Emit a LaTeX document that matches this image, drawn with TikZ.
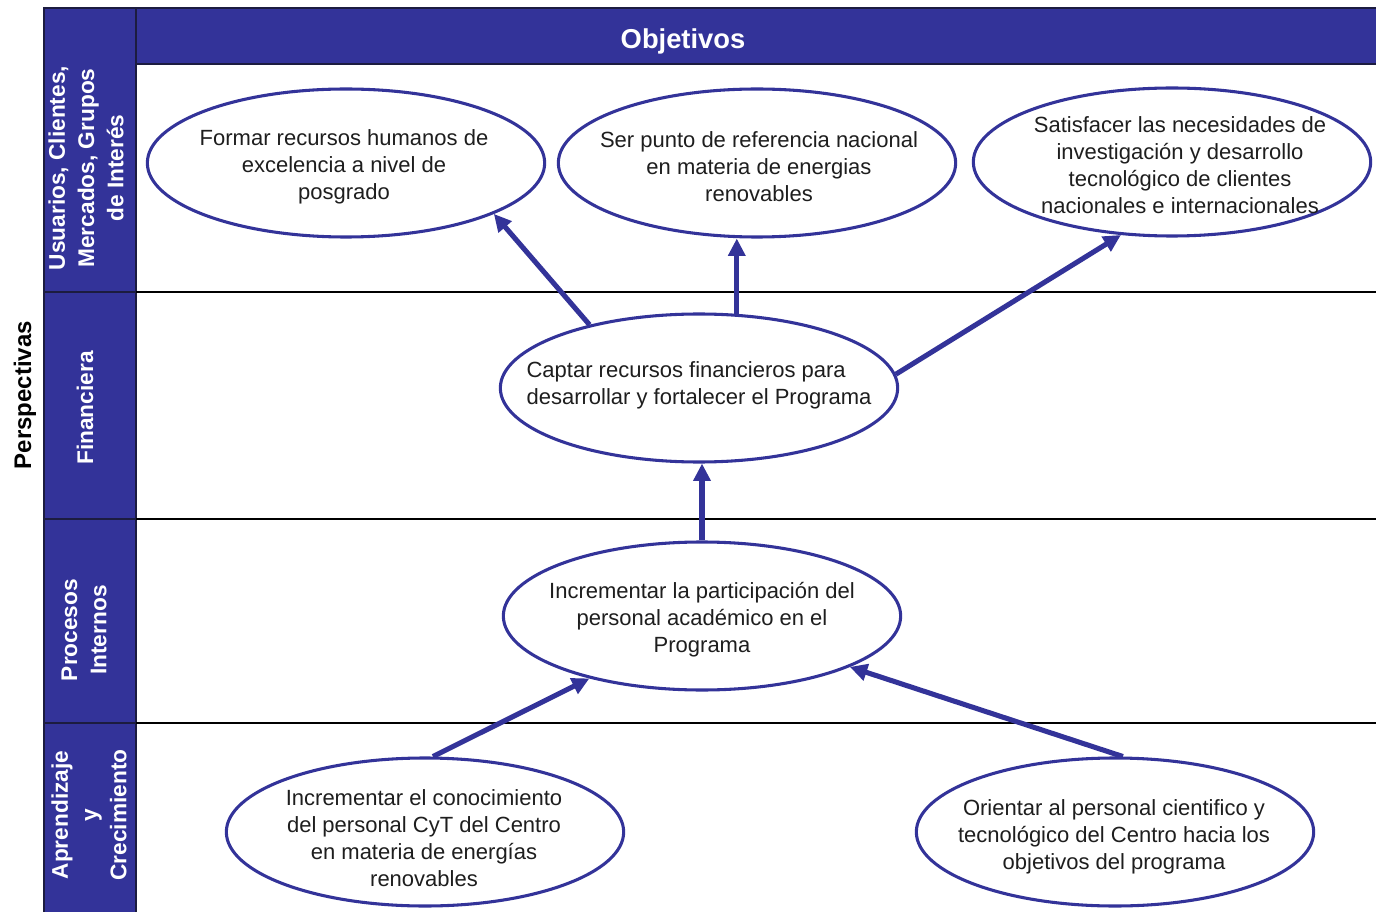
\documentclass[tikz,border=0pt]{standalone}
\usepackage{fontspec}
\setmainfont{Liberation Sans}
\usetikzlibrary{shapes.geometric,arrows.meta}
\definecolor{navy}{RGB}{51,51,153}
\definecolor{edge}{RGB}{28,28,64}
\definecolor{ink}{RGB}{30,30,30}

\begin{document}
\begin{tikzpicture}[x=0.75pt,y=-0.75pt,
  oval/.style={ellipse, draw=navy, line width=2.3pt, fill=white,
    minimum width=298pt, minimum height=111pt, inner sep=0pt},
  txt/.style={font=\fontsize{16.5}{20.25}\selectfont, align=center, text=ink, inner sep=0pt},
  link/.style={draw=navy, line width=3.8pt, -{Triangle[length=13pt,width=12.5pt]}},
  band/.style={fill=navy, draw=edge, line width=1pt},
  rowline/.style={draw=black, line width=1pt},
  side/.style={font=\bfseries\fontsize{17}{22}\selectfont, text=white, align=center, rotate=90, inner sep=0pt},
]
\useasboundingbox (0,0) rectangle (1376,912);
\clip (0,0) rectangle (1376,912);
\fill[white] (0,0) rectangle (1376,912);

% header band and perspective column
\draw[band] (136,8) rectangle (1390,64);
\draw[band] (44,8) rectangle (136,292);
\draw[band] (44,292) rectangle (136,519);
\draw[band] (44,519) rectangle (136,723);
\draw[band] (44,723) rectangle (136,920);

% row separators
\draw[rowline] (136,292) -- (1376,292);
\draw[rowline] (136,519) -- (1376,519);
\draw[rowline] (136,723) -- (1376,723);

% titles
\node[font=\bfseries\fontsize{20.5}{24}\selectfont, text=white] (head) at (683,41) {Objetivos};
\node[font=\bfseries\fontsize{18}{22}\selectfont, text=black, rotate=90] (persp) at (25,395) {Perspectivas};
\node[side] (p1) at (86,168) {Usuarios, Clientes,\\Mercados, Grupos\\de Interés};
\node[side] (p2) at (85,408) {Financiera};
\node[side] (p3) at (84,630) {Procesos\\Internos};
\node[side] (p4) at (89,815) {Aprendizaje\\y\\Crecimiento};

% objectives
\node[oval] (form) at (346,163) {};
\node[oval] (ser)  at (757,163) {};
\node[oval] (sat)  at (1172,162) {};
\node[oval] (cap)  at (699,388) {};
\node[oval] (part) at (702,616) {};
\node[oval] (con)  at (425,832) {};
\node[oval] (ori)  at (1115,832) {};

\node[txt] (tform) at (344,167) {Formar recursos humanos de\\excelencia a nivel de\\posgrado};
\node[txt] (tser)  at (759,167) {Ser punto de referencia nacional\\en materia de energias\\renovables};
\node[txt] (tsat)  at (1180,165) {Satisfacer las necesidades de\\investigación y desarrollo\\tecnológico de clientes\\nacionales e internacionales};
\node[txt, align=left] (tcap) at (699,385) {Captar recursos financieros para\\desarrollar y fortalecer el Programa};
\node[txt] (tpart) at (702,620) {Incrementar la participación del\\personal académico en el\\Programa};
\node[txt] (tcon)  at (424,838) {Incrementar el conocimiento\\del personal CyT del Centro\\en materia de energías\\renovables};
\node[txt] (tori)  at (1114,837) {Orientar al personal cientifico y\\tecnológico del Centro hacia los\\objetivos del programa};

% cause-effect links
\draw[link] (cap.150.9) -- (form.-19.5);
\draw[link] (cap.63.1) -- (cap.63.1 |- ser.south);
\draw[link] (cap.4.6) -- (sat.-125.1);
\draw[link] (part.north) -- (part.north |- cap.south);
\draw[link] (con.84.7) -- (part.-151.5);
\draw[link] (ori.84.7) -- (part.-19.4);
\end{tikzpicture}
\end{document}
